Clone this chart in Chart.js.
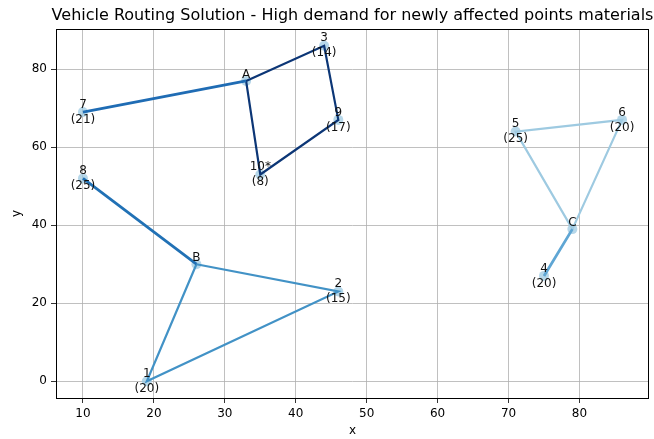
<!DOCTYPE html>
<html>
<head>
<meta charset="utf-8">
<script src="https://cdn.jsdelivr.net/npm/chart.js@4"></script>
<style>
  html, body { margin: 0; padding: 0; background: #fff; }
  #wrap { width: 654px; height: 439px; }
</style>
</head>
<body>
<div id="wrap"><canvas id="routeChart" width="654" height="439"></canvas></div>
<script>
// ---- data ----
const depotNames = ["A", "B", "C"];
const depotX     = [33, 26, 79];
const depotY     = [77, 30, 39];

const custNames  = ["1", "2", "3", "4", "5", "6", "7", "8", "9", "10*"];
const custX      = [19, 46, 44, 75, 71, 86, 10, 10, 46, 35];
const custY      = [0, 23, 86, 27, 64, 67, 69, 52, 67, 53];
const custDemand = [20, 15, 14, 20, 25, 20, 21, 25, 17, 8];

const routes = [
  ["A", "7", "A"],
  ["A", "3", "9", "10*", "A"],
  ["B", "8", "B"],
  ["B", "2", "1", "B"],
  ["C", "4", "C"],
  ["C", "5", "6", "C"],
];
const routeColors = ["#1f6cb4", "#0c3676", "#2171b5", "#4292c6", "#5fa6d4", "#9ecae1"];

const xTicks = [10, 20, 30, 40, 50, 60, 70, 80];
const yTicks = [0, 20, 40, 60, 80];

const TITLE = "Vehicle Routing Solution - High demand for newly affected points materials";
const FONT = "'DejaVu Sans', sans-serif";

// lookup name -> coordinates
function coord(name) {
  let i = depotNames.indexOf(name);
  if (i >= 0) return { x: depotX[i], y: depotY[i] };
  i = custNames.indexOf(name);
  return { x: custX[i], y: custY[i] };
}

// there-and-back routes look heavier in the original
const routeSets = routes.map((r, i) => ({
  type: "scatter",
  data: r.map(coord),
  showLine: true,
  borderColor: routeColors[i],
  borderWidth: r.length === 3 ? 2.8 : 2.2,
  pointRadius: 0,
  fill: false,
  order: 1,
}));

const allPts = depotNames.map(coord).concat(custNames.map(coord));
const markerSet = {
  type: "scatter",
  data: allPts,
  pointRadius: 5,
  pointBackgroundColor: "rgba(158,202,225,0.75)",
  pointBorderWidth: 0,
  order: 10,
};

// ---- plugin: title, frame, axis labels, point labels ----
const decor = {
  id: "decor",
  afterDraw(chart) {
    const { ctx, chartArea: a, scales } = chart;
    ctx.save();
    // frame
    ctx.strokeStyle = "#000";
    ctx.lineWidth = 1;
    ctx.strokeRect(Math.round(a.left) + 0.5, Math.round(a.top) + 0.5,
                   Math.round(a.right - a.left) - 1, Math.round(a.bottom - a.top));
    ctx.fillStyle = "#000";
    // title
    ctx.font = `16px ${FONT}`;
    ctx.textAlign = "center";
    ctx.textBaseline = "middle";
    ctx.fillText(TITLE, (a.left + a.right) / 2, 16);
    // axis labels
    ctx.font = `12px ${FONT}`;
    ctx.fillText("x", (a.left + a.right) / 2, 431);
    ctx.save();
    ctx.translate(17, (a.top + a.bottom) / 2);
    ctx.rotate(-Math.PI / 2);
    ctx.fillText("y", 0, 0);
    ctx.restore();
    // depot labels
    ctx.fillStyle = "#111";
    ctx.textBaseline = "alphabetic";
    depotNames.forEach((n, i) => {
      const px = scales.x.getPixelForValue(depotX[i]);
      const py = scales.y.getPixelForValue(depotY[i]);
      ctx.fillText(n, px, py - 3);
    });
    // customer labels
    ctx.textBaseline = "middle";
    custNames.forEach((n, i) => {
      const px = scales.x.getPixelForValue(custX[i]);
      const py = scales.y.getPixelForValue(custY[i]);
      ctx.fillText(n, px, py - 7.5);
      ctx.fillText(`(${custDemand[i]})`, px, py + 7.5);
    });
    ctx.restore();
  },
};

new Chart(document.getElementById("routeChart"), {
  type: "scatter",
  data: { datasets: [...routeSets, markerSet] },
  options: {
    responsive: false,
    animation: false,
    layout: { padding: { left: 0, right: 2, top: 29, bottom: 0 } },
    plugins: { legend: { display: false }, tooltip: { enabled: false } },
    scales: {
      x: {
        type: "linear",
        min: 6.2,
        max: 89.8,
        afterBuildTicks: s => { s.ticks = xTicks.map(v => ({ value: v })); },
        afterFit: s => { s.height = 41; },
        grid: { color: "#b0b0b0", lineWidth: 0.8, tickLength: 5, tickColor: "#000" },
        border: { display: false },
        ticks: { color: "#000", padding: 4, maxRotation: 0, autoSkip: false,
                 font: { family: FONT, size: 12 } },
      },
      y: {
        type: "linear",
        min: -4.3,
        max: 90.3,
        afterBuildTicks: s => { s.ticks = yTicks.map(v => ({ value: v })); },
        afterFit: s => { s.width = 56; },
        grid: { color: "#b0b0b0", lineWidth: 0.8, tickLength: 5, tickColor: "#000" },
        border: { display: false },
        ticks: { color: "#000", padding: 4, autoSkip: false,
                 font: { family: FONT, size: 12 } },
      },
    },
  },
  plugins: [decor],
});
</script>
</body>
</html>
